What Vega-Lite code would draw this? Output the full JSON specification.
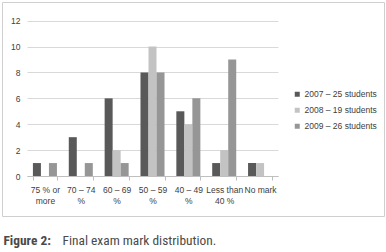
{
  "$schema": "https://vega.github.io/schema/vega-lite/v6.json",
  "width": 382,
  "height": 214,
  "autosize": {"type": "none"},
  "padding": {"left": 2, "top": 2, "right": 2, "bottom": 36},
  "background": "#ffffff",
  "config": {
    "view": {"stroke": "#cfcfcf", "strokeWidth": 1},
    "font": "Liberation Sans"
  },
  "data": {
    "values": [
      {"band": "75 % or more", "year": "2007 – 25 students", "count": 1},
      {"band": "75 % or more", "year": "2008 – 19 students", "count": 0},
      {"band": "75 % or more", "year": "2009 – 26 students", "count": 1},
      {"band": "70 – 74 %", "year": "2007 – 25 students", "count": 3},
      {"band": "70 – 74 %", "year": "2008 – 19 students", "count": 0},
      {"band": "70 – 74 %", "year": "2009 – 26 students", "count": 1},
      {"band": "60 – 69 %", "year": "2007 – 25 students", "count": 6},
      {"band": "60 – 69 %", "year": "2008 – 19 students", "count": 2},
      {"band": "60 – 69 %", "year": "2009 – 26 students", "count": 1},
      {"band": "50 – 59 %", "year": "2007 – 25 students", "count": 8},
      {"band": "50 – 59 %", "year": "2008 – 19 students", "count": 10},
      {"band": "50 – 59 %", "year": "2009 – 26 students", "count": 8},
      {"band": "40 – 49 %", "year": "2007 – 25 students", "count": 5},
      {"band": "40 – 49 %", "year": "2008 – 19 students", "count": 4},
      {"band": "40 – 49 %", "year": "2009 – 26 students", "count": 6},
      {"band": "Less than 40 %", "year": "2007 – 25 students", "count": 1},
      {"band": "Less than 40 %", "year": "2008 – 19 students", "count": 2},
      {"band": "Less than 40 %", "year": "2009 – 26 students", "count": 9},
      {"band": "No mark", "year": "2007 – 25 students", "count": 1},
      {"band": "No mark", "year": "2008 – 19 students", "count": 1},
      {"band": "No mark", "year": "2009 – 26 students", "count": 0}
    ]
  },
  "mark": {"type": "bar"},
  "encoding": {
    "x": {
      "field": "band",
      "type": "nominal",
      "sort": null,
      "scale": {"range": [25, 276], "paddingInner": 0.33, "paddingOuter": 0.165},
      "axis": {
        "orient": "bottom",
        "offset": -40,
        "labelAngle": 0,
        "labelFontSize": 8.5,
        "labelColor": "#404040",
        "labelPadding": 5,
        "labelLineHeight": 11,
        "labelExpr": "datum.label == 'No mark' ? datum.label : datum.label == 'Less than 40 %' ? ['Less than', '40 %'] : [substring(datum.label, 0, lastindexof(datum.label, ' ')), substring(datum.label, lastindexof(datum.label, ' ') + 1)]",
        "domainColor": "#bfbfbf",
        "tickColor": "#bfbfbf",
        "tickSize": 4,
        "tickBand": "extent",
        "grid": false,
        "title": "Final exam mark distribution.",
        "titleX": 60,
        "titleY": 64,
        "titleAlign": "left",
        "titleBaseline": "middle",
        "titleFont": "Liberation Sans Narrow, Roboto Condensed, Liberation Sans",
        "titleFontSize": 13.4,
        "titleFontWeight": "normal",
        "titleColor": "#4a4a4a"
      }
    },
    "xOffset": {
      "field": "year",
      "type": "nominal",
      "scale": {"paddingInner": 0, "paddingOuter": 0}
    },
    "y": {
      "field": "count",
      "type": "quantitative",
      "scale": {"domain": [0, 12], "range": [174, 18.7], "nice": false},
      "axis": {
        "orient": "left",
        "offset": -25,
        "values": [0, 2, 4, 6, 8, 10, 12],
        "domain": false,
        "ticks": false,
        "labelPadding": 7,
        "labelFontSize": 8.5,
        "labelColor": "#404040",
        "gridColor": "#d9d9d9",
        "title": "Figure 2:",
        "titleAngle": 0,
        "titleX": -24,
        "titleY": 238,
        "titleAlign": "left",
        "titleBaseline": "middle",
        "titleFont": "Liberation Sans Narrow, Roboto Condensed, Liberation Sans",
        "titleFontSize": 13.4,
        "titleFontWeight": "bold",
        "titleColor": "#4a4a4a"
      }
    },
    "color": {
      "field": "year",
      "type": "nominal",
      "scale": {"range": ["#595959", "#c3c3c3", "#969696"]},
      "legend": {
        "title": null,
        "orient": "none",
        "legendX": 291,
        "legendY": 88,
        "symbolType": "square",
        "symbolSize": 25,
        "symbolStrokeWidth": 0,
        "labelFontSize": 8.5,
        "labelColor": "#404040",
        "labelOffset": 3,
        "rowPadding": 7
      }
    }
  }
}
